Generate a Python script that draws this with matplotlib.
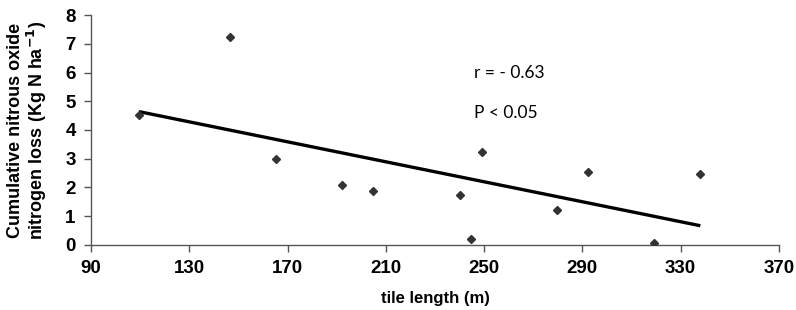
import matplotlib
matplotlib.use("Agg")
import matplotlib.pyplot as plt

tile_length = [109.5, 146.5, 165.1, 192.2, 204.9, 240.0, 244.5, 249.2, 279.6, 292.2, 319.2, 338.0]
n2o_loss = [4.52, 7.25, 3.00, 2.10, 1.88, 1.74, 0.22, 3.25, 1.21, 2.55, 0.07, 2.48]
trend_x = [109.5, 338.0]
trend_y = [4.64, 0.67]
x_ticks = [90, 130, 170, 210, 250, 290, 330, 370]
y_ticks = [0, 1, 2, 3, 4, 5, 6, 7, 8]

fig = plt.figure(figsize=(7.96, 3.10), dpi=100)
ax = fig.add_axes([0.1143, 0.2097, 0.8643, 0.7419])

ax.plot(tile_length, n2o_loss, linestyle="none", marker="D", markersize=4.5,
        color="#333333", zorder=3)
ax.plot(trend_x, trend_y, color="black", linewidth=2.4, solid_capstyle="butt", zorder=2)

ax.set_xlim(90, 370)
ax.set_ylim(0, 8)
ax.set_xticks(x_ticks)
ax.set_yticks(y_ticks)

for s in ["top", "right"]:
    ax.spines[s].set_visible(False)
for s in ["left", "bottom"]:
    ax.spines[s].set_color("#555555")
    ax.spines[s].set_linewidth(1.0)

ax.tick_params(axis="both", direction="out", length=5, width=1.0, color="#555555")
ax.tick_params(axis="x", pad=6)
ax.tick_params(axis="y", pad=6)
for lab in ax.get_xticklabels() + ax.get_yticklabels():
    lab.set_fontfamily("Liberation Sans")
    lab.set_fontweight("bold")
    lab.set_fontsize(13.5)

ax.set_xlabel("tile length (m)", fontfamily="Liberation Sans", fontweight="bold",
              fontsize=12, labelpad=10)
ax.set_ylabel("Cumulative nitrous oxide\nnitrogen loss (Kg N ha$^{\\mathbf{-1}}$)",
              fontfamily="Liberation Sans", fontweight="bold", fontsize=13,
              linespacing=1.0, labelpad=12)

ax.text(246, 6.0, "r = - 0.63", fontfamily="Lato", fontsize=12.5, va="center", ha="left")
ax.text(246, 4.6, "P < 0.05", fontfamily="Lato", fontsize=12.5, va="center", ha="left")

fig.savefig("out.png", dpi=100)
